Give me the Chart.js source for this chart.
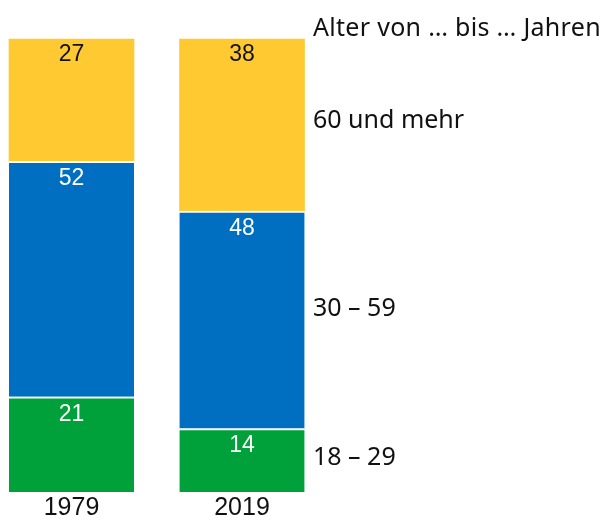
<!DOCTYPE html>
<html>
<head>
<meta charset="utf-8">
<script src="https://cdn.jsdelivr.net/npm/chart.js@4"></script>
<style>
    html, body { margin: 0; padding: 0; background: #fff; }
    #wrap { width: 603px; height: 520px; position: relative; }
</style>
</head>
<body>
<div id="wrap"><canvas id="ageChart"></canvas></div>
<script>
// Years on the x axis
const years = ['1979', '2019'];

// Share of each age group in percent, per year
const young = [21, 14];   // 18 - 29
const middle = [52, 48];  // 30 - 59
const old = [27, 38];     // 60 und mehr

const groupLabels = ['18 – 29', '30 – 59', '60 und mehr'];
const legendTitle = 'Alter von … bis … Jahren';

const colors = ['#00a03a', '#006fc1', '#ffca31'];
const labelColors = ['#ffffff', '#ffffff', '#111111'];

// Numbers at the top of each segment
const segmentLabels = {
    id: 'segmentLabels',
    afterDatasetsDraw(chart) {
        const ctx = chart.ctx;
        ctx.save();
        ctx.font = '23px "Liberation Sans", Arial, sans-serif';
        ctx.textAlign = 'center';
        ctx.textBaseline = 'top';
        chart.data.datasets.forEach((ds, i) => {
            const meta = chart.getDatasetMeta(i);
            ctx.fillStyle = labelColors[i];
            meta.data.forEach((bar, j) => {
                const pad = i === 2 ? 4 : 6;
                ctx.fillText(String(ds.data[j]), bar.x, bar.y + pad);
            });
        });
        ctx.restore();
    }
};

// Age group names to the right of the bars
const sideLabels = {
    id: 'sideLabels',
    afterDraw(chart) {
        const ctx = chart.ctx;
        ctx.save();
        ctx.font = '25px "Noto Sans", sans-serif';
        ctx.fillStyle = '#111111';
        ctx.textAlign = 'left';
        ctx.textBaseline = 'alphabetic';
        const x = 313;
        ctx.letterSpacing = '0.3px';
        ctx.fillText(legendTitle, x, 36);
        ctx.letterSpacing = '0px';
        ctx.fillText(groupLabels[2], x, 128);
        ctx.fillText(groupLabels[1], x, 316);
        ctx.fillText(groupLabels[0], x, 465);
        ctx.restore();
    }
};

const ctx = document.getElementById('ageChart');

new Chart(ctx, {
    type: 'bar',
    data: {
        labels: years,
        datasets: [
            {
                label: groupLabels[0],
                data: young,
                backgroundColor: colors[0],
                borderColor: '#ffffff',
                borderWidth: { top: 2, bottom: 0, left: 0, right: 0 },
                borderSkipped: false,
                clip: false
            },
            {
                label: groupLabels[1],
                data: middle,
                backgroundColor: colors[1],
                borderColor: '#ffffff',
                borderWidth: { top: 2, bottom: 0, left: 0, right: 0 },
                borderSkipped: false,
                clip: false
            },
            {
                label: groupLabels[2],
                data: old,
                backgroundColor: colors[2],
                borderWidth: 0,
                clip: false
            }
        ]
    },
    options: {
        responsive: true,
        maintainAspectRatio: false,
        animation: false,
        devicePixelRatio: 1,
        barThickness: 125,
        layout: {
            padding: { left: 71.5, right: 361, top: 39, bottom: 0 }
        },
        plugins: {
            legend: { display: false },
            tooltip: { enabled: false }
        },
        scales: {
            x: {
                stacked: true,
                offset: false,
                grid: { display: false, drawTicks: false },
                border: { display: false },
                ticks: {
                    color: '#111111',
                    padding: 1,
                    maxRotation: 0,
                    autoSkip: false,
                    font: { family: '"Liberation Sans", Arial, sans-serif', size: 25 }
                },
                afterFit(scale) { scale.height = 28; }
            },
            y: {
                stacked: true,
                display: false,
                min: 0,
                max: 100
            }
        }
    },
    plugins: [segmentLabels, sideLabels]
});
</script>
</body>
</html>
